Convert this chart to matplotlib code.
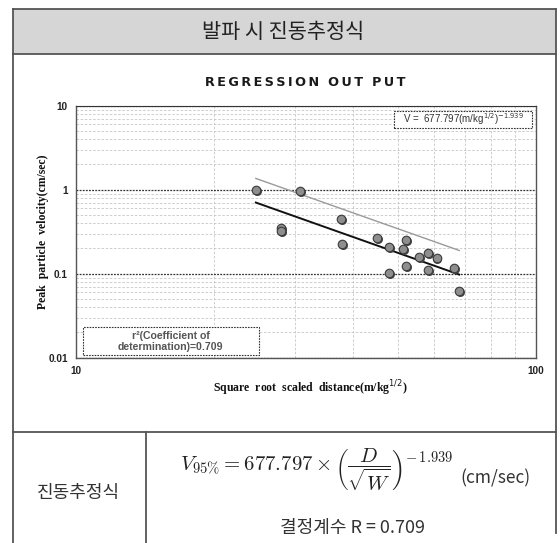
import numpy as np
import matplotlib
matplotlib.use('Agg')
import matplotlib.pyplot as plt
from matplotlib.patches import Rectangle
from matplotlib.lines import Line2D
from matplotlib.ticker import NullFormatter
import matplotlib.transforms as mtransforms

# data
dist = [24.6, 30.7, 27.9, 27.9, 37.7, 37.9, 45.1, 48.0, 52.2, 51.5,
        55.7, 58.2, 60.8, 52.1, 58.2, 66.5, 48.0, 68.1]
ppv = [0.99, 0.97, 0.35, 0.32, 0.45, 0.228, 0.265, 0.207, 0.254, 0.197,
       0.159, 0.176, 0.153, 0.125, 0.112, 0.116, 0.102, 0.062]

k95 = 677.797   # 95% line coefficient
k50 = 350.0     # 50% line coefficient
slope = -1.939
r2 = 0.709

xticks = [10, 100]
xtick_labels = ['10', '100']
yticks = [0.01, 0.1, 1, 10]
ytick_labels = ['0.01', '0.1', '1', '10']

W, H = 560, 543
fig = plt.figure(figsize=(W / 100, H / 100), dpi=100)
fig.patch.set_facecolor('white')

kr = ['Noto Sans CJK KR', 'DejaVu Sans']


def fx(px):
    return px / W


def fy(py):
    return 1 - py / H


# outer frame, header band, table lines
frame_c = '#555555'
fig.add_artist(Rectangle((fx(12.7), fy(53.5)), fx(555.7) - fx(12.7), fy(9) - fy(53.5),
                         transform=fig.transFigure, fc='#d6d6d6', ec='none'))
for (x0, y0, x1, y1) in [(12.7, 9, 555.7, 9), (12.7, 53.5, 555.7, 53.5),
                         (12.7, 9, 12.7, 543), (555.7, 9, 555.7, 533),
                         (12.7, 432.3, 555.7, 432.3), (145.7, 432.3, 145.7, 543)]:
    fig.add_artist(Line2D([fx(x0), fx(x1)], [fy(y0), fy(y1)], transform=fig.transFigure,
                          color=frame_c, lw=1.3))

fig.text(fx(283), fy(32), '발파 시 진동추정식', family=kr, fontsize=15,
         ha='center', va='center', color='#222222')

fig.text(fx(305), fy(82), '\u2009'.join('REGRESSION') + '  ' + '\u2009'.join('OUT') + '  ' + '\u2009'.join('PUT'),
         family='DejaVu Sans', fontweight='bold', fontsize=9.2,
         ha='center', va='center', color='#1a1a1a')

# chart
ax = fig.add_axes([fx(76), fy(357.7), fx(536) - fx(76), fy(105.7) - fy(357.7)])
ax.set_xscale('log')
ax.set_yscale('log')
ax.set_xlim(10, 100)
ax.set_ylim(0.01, 10)

ax.grid(which='minor', color='#c6c6c6', ls=(0, (3, 2)), lw=0.6)
ax.grid(which='major', axis='y', color='#333333', ls=(0, (1.5, 1)), lw=0.9)
ax.set_axisbelow(True)

for s in ['left', 'bottom', 'right']:
    ax.spines[s].set_color('#555555')
    ax.spines[s].set_linewidth(1.0)
ax.spines['top'].set_color('#333333')
ax.spines['top'].set_linestyle((0, (1.5, 1)))

ax.set_xticks(xticks, xtick_labels)
ax.set_yticks(yticks, ytick_labels)
ax.xaxis.set_minor_formatter(NullFormatter())
ax.yaxis.set_minor_formatter(NullFormatter())
ax.tick_params(which='both', length=0)
ax.tick_params(axis='y', pad=6)
ax.tick_params(axis='x', pad=6)
for lab in ax.get_xticklabels() + ax.get_yticklabels():
    lab.set_fontfamily('Liberation Sans')
    lab.set_fontweight('bold')
    lab.set_fontsize(7.2)
    lab.set_color('#222222')

# regression lines
xl = np.array([min(dist), max(dist)])
ax.plot(xl, k95 * xl ** slope, color='#9a9a9a', lw=1.0, zorder=3)
ax.plot(xl, k50 * xl ** slope, color='#111111', lw=1.4, zorder=3)

# points with a small shadow
shadow = mtransforms.offset_copy(ax.transData, fig=fig, x=0.6, y=-0.8, units='points')
ax.scatter(dist, ppv, s=42, color='#444444', transform=shadow, zorder=4, lw=0)
ax.scatter(dist, ppv, s=38, facecolor='#8e8e8e', edgecolor='#3a3a3a', lw=0.8, zorder=5)

# annotation boxes
ax.add_patch(Rectangle((0.692, 0.913), 0.300, 0.067, transform=ax.transAxes,
                       fc='white', ec='#333333', lw=0.8, ls=(0, (1.5, 1)), zorder=6))
ax.text(0.842, 0.946, r'V =  677.797(m/kg$^{1/2}$)$^{-1.939}$', transform=ax.transAxes,
        family='Liberation Sans', fontsize=7.0, color='#333333', ha='center', va='center', zorder=7)

ax.add_patch(Rectangle((0.0152, 0.0095), 0.383, 0.111, transform=ax.transAxes,
                       fc='white', ec='#333333', lw=0.8, ls=(0, (1.5, 1)), zorder=6))
ax.text(0.206, 0.065, 'r\u00b2(Coefficient of\ndetermination)=%.3f' % r2, transform=ax.transAxes,
        family='Liberation Sans', fontweight='bold', fontsize=7.6, color='#555555',
        ha='center', va='center', linespacing=1.1, zorder=7)

fig.text(fx(43), fy(232), 'Peak  particle  velocity(cm/sec)', family='Liberation Serif',
         fontweight='bold', fontsize=8.5, rotation=90, ha='center', va='center', color='#111111')
fig.text(fx(310), fy(388), r'Square  root  scaled  distance(m/kg$^{1/2}$)', family='Liberation Serif',
         fontweight='bold', fontsize=8.5, ha='center', va='center', color='#111111')

# table below
fig.text(fx(78.5), fy(493), '진동추정식', family=kr, fontsize=13, ha='center', va='center',
         color='#333333')
fig.text(fx(180), fy(470), r'$V_{95\%} = 677.797 \times \left(\dfrac{D}{\sqrt{W}}\right)^{-\,1.939}$',
         math_fontfamily='cm', fontsize=15, ha='left', va='center', color='#222222')
fig.text(fx(460), fy(478), '(cm/sec)', family=kr, fontsize=12.5, ha='left', va='center',
         color='#333333')
fig.text(fx(353), fy(528), '결정계수 R = 0.709', family=kr, fontsize=13, ha='center', va='center',
         color='#333333')

fig.savefig('out.png', dpi=100)
